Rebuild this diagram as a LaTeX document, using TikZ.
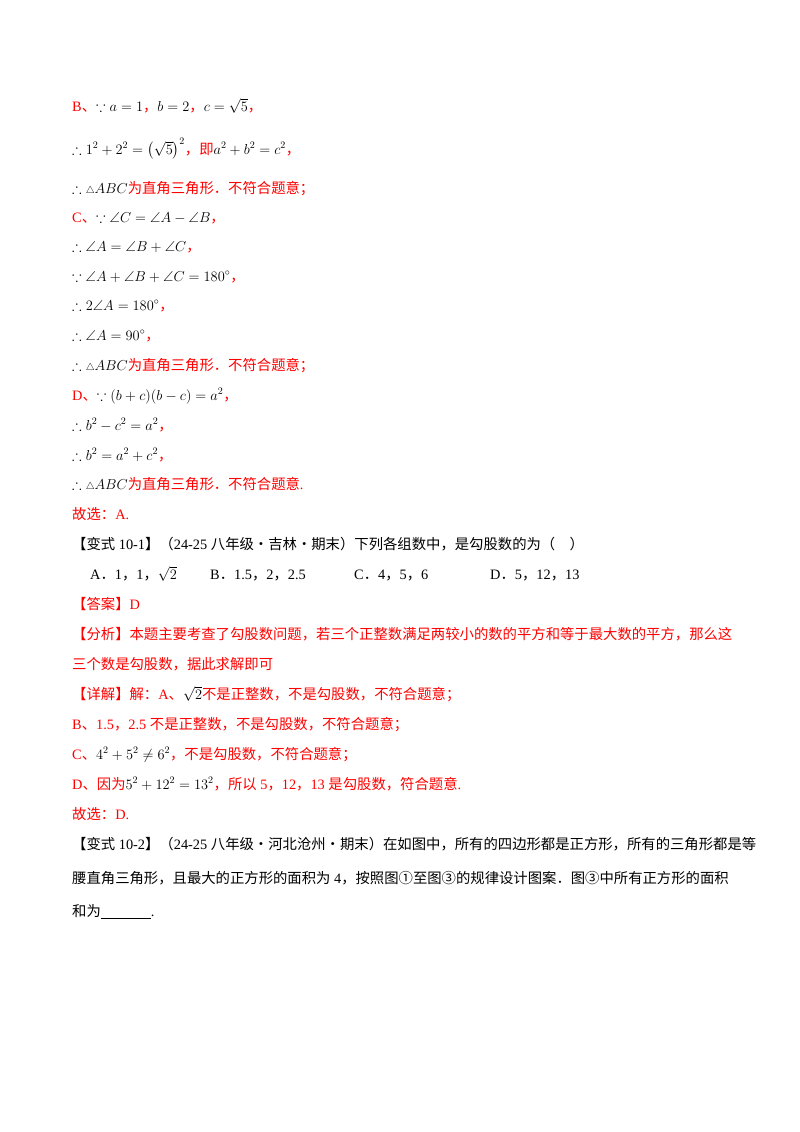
\documentclass[tikz,border=0pt]{standalone}
\usepackage{amssymb}
\usepackage{fontspec}
\setmainfont{Liberation Serif}
\newfontfamily\cjk{Noto Sans CJK SC}
\newcommand{\zh}[1]{{\cjk #1}}
\newcommand{\R}[1]{{\color{red}#1}}
\begin{document}
\begin{tikzpicture}[x=1pt,y=-1pt,
  ln/.style={anchor=base west,inner sep=0pt,font=\fontsize{14.35}{16}\selectfont}]
\useasboundingbox (0,0) rectangle (800,1132);
\node[ln] (l1) at (72,111) {\R{B\zh{、}}$\because a=1$\R{\zh{，}}$b=2$\R{\zh{，}}$c=\sqrt{5}$\R{\zh{，}}};
\node[ln] (l2) at (72,154) {$\therefore 1^2+2^2=\left(\sqrt{5}\right)^2$\R{\zh{，即}}$a^2+b^2=c^2$\R{\zh{，}}};
\node[ln] (l3) at (72,193) {$\therefore{\scriptstyle\triangle}ABC$\R{\zh{为直角三角形．不符合题意；}}};
\node[ln] (l4) at (72,222) {\R{C\zh{、}}$\because\angle C=\angle A-\angle B$\R{\zh{，}}};
\node[ln] (l5) at (72,251) {$\therefore\angle A=\angle B+\angle C$\R{\zh{，}}};
\node[ln] (l6) at (72,281) {$\because\angle A+\angle B+\angle C=180^\circ$\R{\zh{，}}};
\node[ln] (l7) at (72,310) {$\therefore 2\angle A=180^\circ$\R{\zh{，}}};
\node[ln] (l8) at (72,340) {$\therefore\angle A=90^\circ$\R{\zh{，}}};
\node[ln] (l9) at (72,370) {$\therefore{\scriptstyle\triangle}ABC$\R{\zh{为直角三角形．不符合题意；}}};
\node[ln] (l10) at (72,400) {\R{D\zh{、}}$\because(b+c)(b-c)=a^2$\R{\zh{，}}};
\node[ln] (l11) at (72,430) {$\therefore b^2-c^2=a^2$\R{\zh{，}}};
\node[ln] (l12) at (72,460) {$\therefore b^2=a^2+c^2$\R{\zh{，}}};
\node[ln] (l13) at (72,489) {$\therefore{\scriptstyle\triangle}ABC$\R{\zh{为直角三角形．不符合题意}.}};
\node[ln] (l14) at (72,519) {\R{\zh{故选：}A.}};
\node[ln] (l15) at (72,549) {\zh{【变式} 10-1\zh{】（}24-25 \zh{八年级·吉林·期末）下列各组数中，是勾股数的为（\quad ）}};
\node[ln] (l16) at (90,579) {A\zh{．}1\zh{，}1\zh{，}$\sqrt{2}$};
\node[ln] (l16b) at (210,579) {B\zh{．}1.5\zh{，}2\zh{，}2.5};
\node[ln] (l16c) at (354,579) {C\zh{．}4\zh{，}5\zh{，}6};
\node[ln] (l16d) at (490,579) {D\zh{．}5\zh{，}12\zh{，}13};
\node[ln] (l17) at (72,609) {\R{\zh{【答案】}D}};
\node[ln] (l18) at (72,639) {\R{\zh{【分析】本题主要考查了勾股数问题，若三个正整数满足两较小的数的平方和等于最大数的平方，那么这}}};
\node[ln] (l19) at (72,669) {\R{\zh{三个数是勾股数，据此求解即可}}};
\node[ln] (l20) at (72,699) {\R{\zh{【详解】解：}A\zh{、}}$\sqrt{2}$\R{\zh{不是正整数，不是勾股数，不符合题意；}}};
\node[ln] (l21) at (72,729) {\R{B\zh{、}1.5\zh{，}2.5 \zh{不是正整数，不是勾股数，不符合题意；}}};
\node[ln] (l22) at (72,759) {\R{C\zh{、}}$4^2+5^2\neq6^2$\R{\zh{，不是勾股数，不符合题意；}}};
\node[ln] (l23) at (72,789) {\R{D\zh{、因为}}$5^2+12^2=13^2$\R{\zh{，所以} 5\zh{，}12\zh{，}13 \zh{是勾股数，符合题意}.}};
\node[ln] (l24) at (72,819) {\R{\zh{故选：}D.}};
\node[ln] (l25) at (72,849) {\zh{【变式} 10-2\zh{】（}24-25 \zh{八年级·河北沧州·期末）在如图中，所有的四边形都是正方形，所有的三角形都是等}};
\node[ln] (l26) at (72,883) {\zh{腰直角三角形，且最大的正方形的面积为} 4\zh{，按照图①至图③的规律设计图案．图③中所有正方形的面积}};
\node[ln] (l27) at (72,916) {\zh{和为}\underline{\hspace{50pt}}.};
\end{tikzpicture}
\end{document}
